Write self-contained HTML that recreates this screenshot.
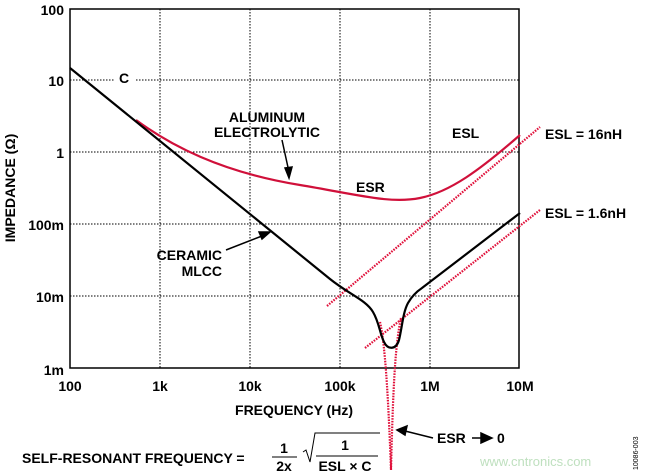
<!DOCTYPE html>
<html><head><meta charset="utf-8"><style>
html,body{margin:0;padding:0;background:#fff;}
svg{display:block;font-family:"Liberation Sans",Arial,sans-serif;font-weight:bold;}
</style></head><body>
<svg width="647" height="474" viewBox="0 0 647 474" xmlns="http://www.w3.org/2000/svg">
<g stroke="#000" stroke-width="1" stroke-dasharray="1.5,1.5" fill="none">
<line x1="160" y1="9" x2="160" y2="368"/><line x1="250" y1="9" x2="250" y2="368"/>
<line x1="340" y1="9" x2="340" y2="368"/><line x1="430" y1="9" x2="430" y2="368"/>
<line x1="70" y1="80" x2="114" y2="80"/><line x1="136" y1="80" x2="519" y2="80"/>
<line x1="70" y1="152" x2="519" y2="152"/><line x1="70" y1="224" x2="519" y2="224"/>
<line x1="70" y1="296" x2="519" y2="296"/>
</g>
<rect x="70" y="9" width="449" height="359" fill="none" stroke="#000" stroke-width="1.5"/>
<g font-size="14" text-anchor="end">
<text x="64" y="15">100</text><text x="64" y="86">10</text><text x="64" y="158">1</text>
<text x="64" y="230">100m</text><text x="64" y="302">10m</text><text x="64" y="375">1m</text>
</g>
<g font-size="14" text-anchor="middle">
<text x="70" y="391">100</text><text x="160" y="391">1k</text><text x="250" y="391">10k</text>
<text x="340" y="391">100k</text><text x="430" y="391">1M</text><text x="520" y="391">10M</text>
<text x="294" y="415">FREQUENCY (Hz)</text>
</g>
<text transform="translate(15,188) rotate(-90)" font-size="14" text-anchor="middle">IMPEDANCE (Ω)</text>
<g stroke="#e0103a" stroke-width="2.2" stroke-dasharray="1.6,1.2" fill="none">
<line x1="327" y1="306" x2="540" y2="127"/>
<line x1="365" y1="348" x2="540" y2="210"/>
<path d="M380,322 C385,345 388,390 391,470 C393,390 395,345 401,318"/>
</g>
<path d="M136,120 C170,145 220,172 300,185 C360,195 390,204 420,198 C450,192 480,170 520,135" fill="none" stroke="#d0103a" stroke-width="2.2"/>
<path d="M70,68 L330,279 C350,295 366,300 373,312 C379,322 380,334 384,342 C388,350 396,350 399,340 C402,328 403,312 408,303 C412,296 416,292 422,288 L520,213" fill="none" stroke="#000" stroke-width="2.2"/>
<g font-size="14">
<text x="119" y="83">C</text>
<text x="267" y="122" text-anchor="middle">ALUMINUM</text>
<text x="267" y="137" text-anchor="middle">ELECTROLYTIC</text>
<text x="452" y="138">ESL</text>
<text x="356" y="192">ESR</text>
<text x="545" y="139">ESL = 16nH</text>
<text x="545" y="218">ESL = 1.6nH</text>
<text x="222" y="260" text-anchor="end">CERAMIC</text>
<text x="222" y="276" text-anchor="end">MLCC</text>
<text x="22" y="463">SELF-RESONANT FREQUENCY =</text>
<text x="284" y="453" text-anchor="middle">1</text>
<text x="284" y="471" text-anchor="middle">2x</text>
<text x="345" y="450" text-anchor="middle">1</text>
<text x="345" y="471" text-anchor="middle">ESL × C</text>
<text x="437" y="443">ESR</text>
<text x="497" y="443">0</text>
</g>
<line x1="272" y1="457" x2="297" y2="457" stroke="#000" stroke-width="1"/>
<line x1="316" y1="456" x2="378" y2="456" stroke="#000" stroke-width="1"/>
<path d="M303,452 L306,450 L310,462 L315,433 L380,433" fill="none" stroke="#000" stroke-width="1"/>
<g stroke="#000" stroke-width="1.5" fill="#000">
<line x1="282" y1="140" x2="289" y2="172"/><path d="M289,178 L285,168 L292,167 Z"/>
<line x1="226" y1="250" x2="262" y2="236"/><path d="M270,232 L259,232 L262,239 Z"/>
<line x1="433" y1="438" x2="405" y2="431"/><path d="M397,430 L407,426 L405,435 Z"/>
<line x1="472" y1="438" x2="483" y2="438"/><path d="M492,438 L481,433 L481,443 Z"/>
</g>
<text x="638" y="470" transform="rotate(-90,638,470)" font-size="7" font-weight="normal">10086-003</text>
<text x="480" y="466" font-size="13" font-weight="normal" fill="#bfe0bf">www.cntronics.com</text>
</svg>
</body></html>
